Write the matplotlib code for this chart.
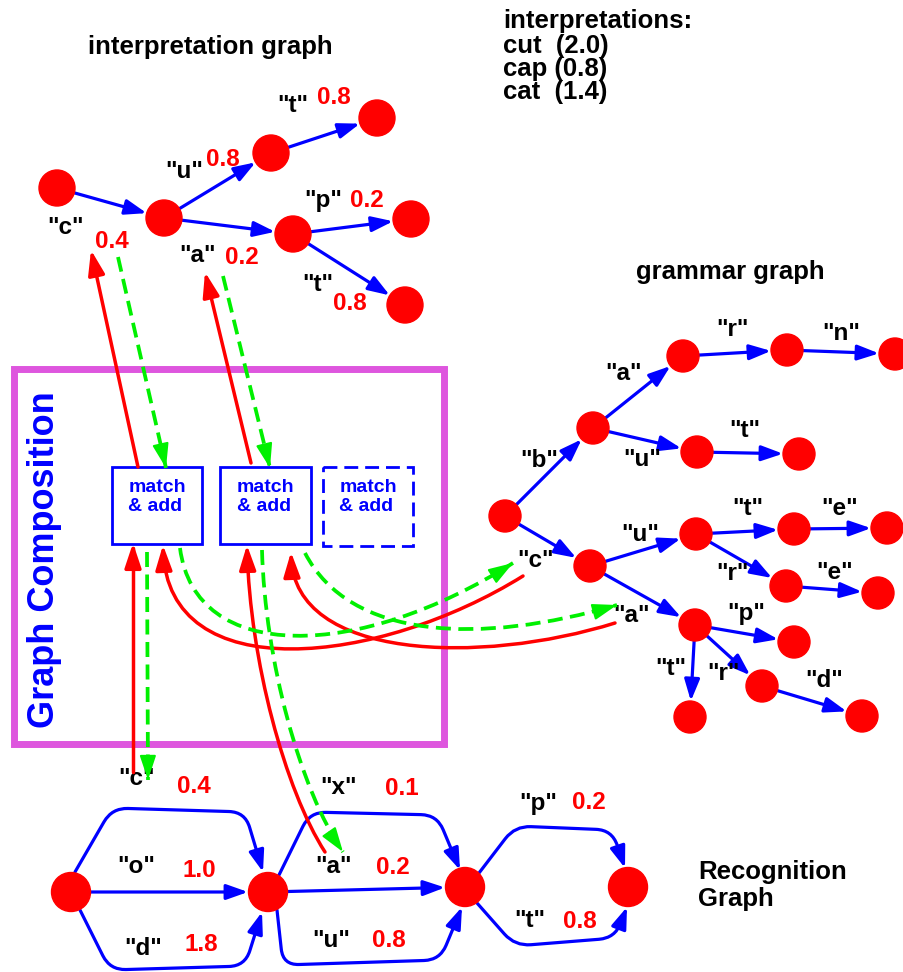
import numpy as np
import matplotlib
matplotlib.use("Agg")
import matplotlib.pyplot as plt
from matplotlib.patches import Circle, Rectangle, FancyArrowPatch, PathPatch
from matplotlib.path import Path

plt.rcParams['font.family'] = ['Liberation Sans', 'DejaVu Sans']
plt.rcParams['font.weight'] = 'bold'

RED = '#ff0000'
BLUE = '#0000ff'
GREEN = '#00f000'
MAGENTA = '#de56de'

# ---- interpretation graph (pixel layout) ----
interp_x = [57, 164, 271, 377, 293, 411, 405]
interp_y = [188, 218, 153, 118, 234, 219, 305]
interp_src = [0, 1, 1, 2, 4, 4]
interp_dst = [1, 2, 4, 3, 5, 6]
interp_chars = ['c', 'u', 'a', 't', 'p', 't']
interp_weights = ['0.4', '0.8', '0.2', '0.8', '0.2', '0.8']
interp_char_pos = [(66, 227), (184, 172), (198, 255), (293, 105), (323, 200), (318, 284)]
interp_weight_pos = [(112, 241), (223, 159), (242, 257), (334, 97), (367, 200), (350, 303)]

interpretations = ['interpretations:', 'cut  (2.0)', 'cap (0.8)', 'cat  (1.4)']

# ---- grammar graph ----
gram_x = [505, 593, 683, 787, 895, 697, 799, 590, 696, 794, 887, 786, 878, 695, 794, 690, 762, 862]
gram_y = [516, 428, 356, 350, 354, 452, 454, 566, 534, 529, 528, 586, 593, 625, 642, 717, 686, 716]
gram_src = [0, 1, 2, 3, 1, 5, 0, 7, 8, 9, 8, 11, 7, 13, 13, 13, 16]
gram_dst = [1, 2, 3, 4, 5, 6, 7, 8, 9, 10, 11, 12, 13, 14, 15, 16, 17]
gram_chars = ['b', 'a', 'r', 'n', 'u', 't', 'c', 'u', 't', 'e', 'r', 'e', 'a', 'p', 't', 'r', 'd']
gram_char_pos = [(539, 460), (624, 373), (732, 329), (841, 333), (642, 459), (745, 430),
                 (536, 560), (640, 534), (748, 508), (840, 508), (732, 573), (835, 572),
                 (632, 615), (746, 613), (671, 668), (723, 673), (824, 680)]

# ---- recognition graph ----
rec_x = [71, 268, 465, 628]
rec_y = [892, 892, 887, 887]
rec_chars = ['c', 'o', 'd', 'x', 'a', 'u', 'p', 't']
rec_weights = ['0.4', '1.0', '1.8', '0.1', '0.2', '0.8', '0.2', '0.8']
rec_char_pos = [(137, 778), (136, 866), (143, 948), (339, 787), (334, 866), (331, 940), (538, 803), (530, 920)]
rec_weight_pos = [(194, 786), (199, 870), (201, 944), (402, 788), (393, 867), (389, 940), (589, 802), (580, 921)]
# edge routes: None = straight node to node
rec_routes = [
    [(75, 872), (112, 808), (245, 812), (263, 872)],
    None,
    [(80, 910), (110, 970), (245, 966), (262, 912)],
    [(279, 875), (310, 812), (437, 815), (460, 870)],
    None,
    [(277, 910), (283, 965), (440, 960), (462, 907)],
    [(479, 873), (515, 826), (612, 830), (625, 868)],
    [(477, 903), (515, 946), (615, 938), (627, 907)],
]
rec_src = [0, 0, 0, 1, 1, 1, 2, 2]
rec_dst = [1, 1, 1, 2, 2, 2, 3, 3]

# ---- composition boxes ----
box_left = [112, 220, 323]
box_top = [467, 467, 467]
box_w = [90, 91, 90]
box_h = [77, 77, 79]

# red = lookup, green = result (cubic control points)
red_curves = [
    [(523, 576), (380, 665), (168, 690), (163, 545)],
    [(615, 623), (480, 665), (295, 660), (291, 552)],
    [(325, 852), (285, 790), (250, 660), (247, 545)],
]
green_curves = [
    [(180, 548), (195, 665), (360, 660), (513, 563)],
    [(305, 553), (350, 640), (480, 645), (617, 605)],
    [(262, 550), (265, 660), (300, 790), (343, 852)],
]
red_lines = [[(133, 772), (133, 543)], [(138, 467), (91, 250)], [(251, 463), (205, 272)]]
green_lines = [[(147, 552), (148, 780)], [(118, 257), (166, 468)], [(223, 276), (270, 468)]]


def arrow_style(hl, hw):
    return matplotlib.patches.ArrowStyle('-|>', head_length=hl, head_width=hw)


def node_arrow(ax, p0, p1, r0, r1):
    p0 = np.array(p0, float)
    p1 = np.array(p1, float)
    u = (p1 - p0) / np.linalg.norm(p1 - p0)
    a = FancyArrowPatch(p0 + u * r0, p1 - u * r1, arrowstyle=arrow_style(13, 4.6),
                        mutation_scale=1, color=BLUE, lw=2.3, shrinkA=0, shrinkB=0, zorder=2)
    ax.add_patch(a)


def rounded(points, r=16):
    pts = [np.array(p, float) for p in points]
    verts = [pts[0]]
    codes = [Path.MOVETO]
    for i in range(1, len(pts) - 1):
        a, b, c = pts[i - 1], pts[i], pts[i + 1]
        d1 = (a - b) / np.linalg.norm(a - b)
        d2 = (c - b) / np.linalg.norm(c - b)
        rr = min(r, np.linalg.norm(a - b) / 2, np.linalg.norm(c - b) / 2)
        verts += [b + d1 * rr, b, b + d2 * rr]
        codes += [Path.LINETO, Path.CURVE3, Path.CURVE3]
    verts.append(pts[-1])
    codes.append(Path.LINETO)
    return Path(verts, codes)


def comp_arrow(ax, pts, color, dashed):
    if len(pts) == 4:
        path = Path(pts, [Path.MOVETO, Path.CURVE4, Path.CURVE4, Path.CURVE4])
    else:
        path = Path(pts, [Path.MOVETO, Path.LINETO])
    if dashed:
        ax.add_patch(PathPatch(path, fill=False, edgecolor=color, lw=2.7,
                               linestyle=(0, (4, 2)), capstyle='butt', zorder=4))
        # solid head on the last short piece
        end = np.array(pts[-1], float)
        prev = np.array(pts[-2], float)
        u = (end - prev) / np.linalg.norm(end - prev)
        ax.add_patch(FancyArrowPatch(end - u * 24, end, arrowstyle=arrow_style(15, 5),
                                     mutation_scale=1, color=color, lw=1.5,
                                     shrinkA=0, shrinkB=0, zorder=4))
    else:
        ax.add_patch(FancyArrowPatch(path=path, arrowstyle=arrow_style(15, 5),
                                     mutation_scale=1, color=color, lw=2.5, zorder=4))


def label(ax, x, y, s, color='black', size=17.5):
    ax.text(x, y, s, color=color, fontsize=size, fontweight='bold', ha='center', va='center')


def main():
    fig = plt.figure(figsize=(9.04, 9.72), dpi=100)
    ax = fig.add_axes([0, 0, 1, 1])
    ax.set_xlim(0, 904)
    ax.set_ylim(972, 0)
    ax.axis('off')

    # interpretation graph
    ax.text(210, 47, 'interpretation graph', fontsize=18.5, fontweight='bold', ha='center', va='center')
    for i, s in enumerate(interpretations):
        ax.text(503, [21, 46, 69, 92][i], s, fontsize=18.5, fontweight='bold', ha='left', va='center')
    for x, y in zip(interp_x, interp_y):
        ax.add_patch(Circle((x, y), 18, color=RED, zorder=3))
    for k in range(len(interp_src)):
        s, d = interp_src[k], interp_dst[k]
        node_arrow(ax, (interp_x[s], interp_y[s]), (interp_x[d], interp_y[d]), 16, 18)
        label(ax, *interp_char_pos[k], '"%s"' % interp_chars[k])
        label(ax, *interp_weight_pos[k], interp_weights[k], RED)

    # grammar graph
    ax.text(730, 272, 'grammar graph', fontsize=18.5, fontweight='bold', ha='center', va='center')
    for x, y in zip(gram_x, gram_y):
        ax.add_patch(Circle((x, y), 16, color=RED, zorder=3))
    for k in range(len(gram_src)):
        s, d = gram_src[k], gram_dst[k]
        node_arrow(ax, (gram_x[s], gram_y[s]), (gram_x[d], gram_y[d]), 14, 16)
        label(ax, *gram_char_pos[k], '"%s"' % gram_chars[k])

    # recognition graph
    ax.text(698, 872, 'Recognition', fontsize=18.5, fontweight='bold', ha='left', va='center')
    ax.text(698, 899, 'Graph', fontsize=18.5, fontweight='bold', ha='left', va='center')
    for x, y in zip(rec_x, rec_y):
        ax.add_patch(Circle((x, y), 19.5, color=RED, zorder=3))
    for k in range(len(rec_chars)):
        s, d = rec_src[k], rec_dst[k]
        if rec_routes[k] is None:
            node_arrow(ax, (rec_x[s], rec_y[s]), (rec_x[d], rec_y[d]), 19, 20)
        else:
            ax.add_patch(FancyArrowPatch(path=rounded(rec_routes[k]), arrowstyle=arrow_style(13, 4.6),
                                         mutation_scale=1, color=BLUE, lw=2.3, zorder=2))
        label(ax, *rec_char_pos[k], '"%s"' % rec_chars[k])
        label(ax, *rec_weight_pos[k], rec_weights[k], RED)

    # graph composition frame
    ax.add_patch(Rectangle((14, 369), 430, 375, fill=False, edgecolor=MAGENTA, lw=5, zorder=1))
    ax.text(45, 560, 'Graph Composition', color=BLUE, fontsize=26, fontweight='bold',
            rotation=90, ha='center', va='center')
    for i in range(3):
        ls = '-' if i < 2 else (0, (5, 2.5))
        ax.add_patch(Rectangle((box_left[i], box_top[i]), box_w[i], box_h[i], fill=False,
                               edgecolor=BLUE, lw=2, linestyle=ls, zorder=2))
        ax.text(box_left[i] + box_w[i] / 2, box_top[i] + 30, 'match\n& add', color=BLUE,
                fontsize=14, fontweight='bold', ha='center', va='center',
                multialignment='left', linespacing=1.1)

    for pts in red_curves + red_lines:
        comp_arrow(ax, pts, RED, False)
    for pts in green_curves + green_lines:
        comp_arrow(ax, pts, GREEN, True)

    fig.savefig('out.png', dpi=100)


if __name__ == '__main__':
    main()
